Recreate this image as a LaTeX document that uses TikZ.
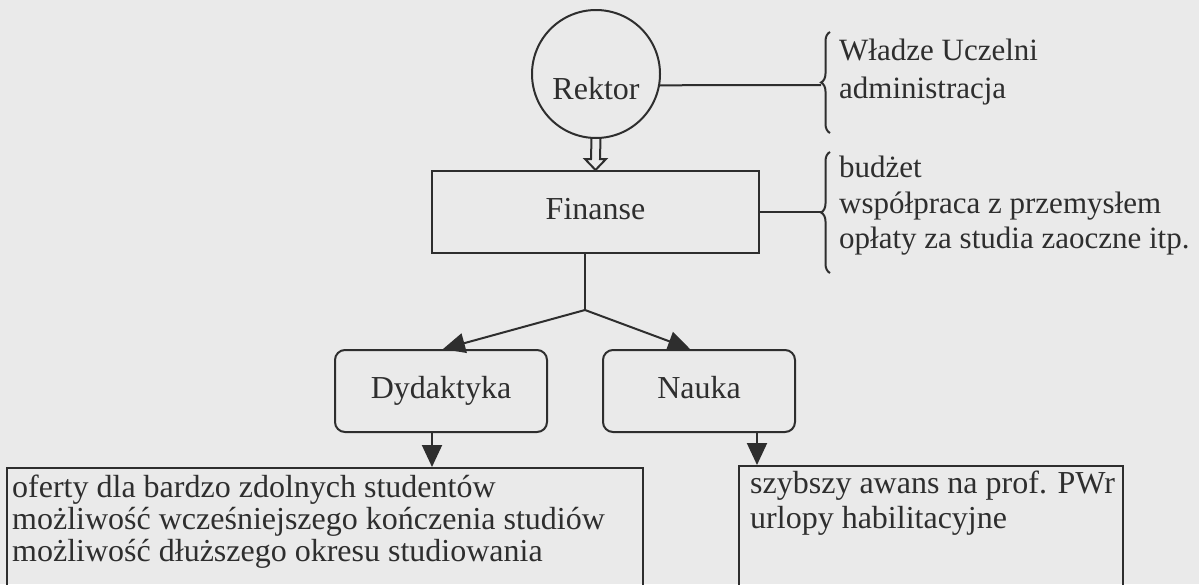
\documentclass[tikz,border=0pt]{standalone}
\usepackage{fontspec}
\setmainfont{Liberation Serif}
\usetikzlibrary{arrows.meta,decorations.pathreplacing,calc}
\definecolor{bg}{HTML}{EAEAEA}
\definecolor{ink}{HTML}{2E2E2E}
\tikzset{
  ln/.style={draw=ink, line width=2pt},
  arr/.style={ln, -{Triangle[length=22pt,width=20pt]}},
  txt/.style={text=ink, inner sep=0pt, anchor=base west},
  rtxt/.style={txt, font=\fontsize{31}{36}\selectfont},
  rbox/.style={ln, rectangle, rounded corners=10pt, minimum width=212pt, minimum height=82pt,
    text=ink, text height=22pt, text depth=7pt},
  sqbox/.style={ln, rectangle, anchor=north west, minimum height=170pt},
  bracesty/.style={ln, decorate, decoration={brace, amplitude=9pt}}
}
\begin{document}
\begin{tikzpicture}[x=1pt, y=-1pt, font=\fontsize{32}{36}\selectfont]
\useasboundingbox (0,0) rectangle (1199,584);
\fill[bg] (0,0) rectangle (1199,584);
\clip (0,0) rectangle (1199,584);

% main nodes
\node[ln, circle, minimum size=128pt, inner sep=0pt, text=ink,
      text height=55pt, text depth=5pt] (rektor) at (596,74) {Rektor};
\node[ln, rectangle, minimum width=327pt, minimum height=82pt, text=ink,
      text height=22pt, text depth=7pt] (fin) at (595.5,212) {Finanse};
\node[rbox] (dyd) at (441,391) {Dydaktyka};
\node[rbox, minimum width=192pt] (nauka) at (699,391) {Nauka};
\node[sqbox, minimum width=636pt] (dbox) at (6,467) {};
\node[sqbox, minimum width=384pt] (nbox) at (738,465) {};

% hollow arrow Rektor -> Finanse
\draw[ln, line join=miter]
  ($(rektor.south)+(-4.5,-1)$) -- ($(fin.north)+(-4.5,-11)$) -- ($(fin.north)+(-10.5,-11)$)
  -- (fin.north) -- ($(fin.north)+(10.5,-11)$) -- ($(fin.north)+(4.5,-11)$)
  -- ($(rektor.south)+(4.5,-1)$);

% braces and their lines
\coordinate (b1tip) at (821,85);
\coordinate (b2tip) at (821,212);
\draw[bracesty] (830,133) -- (830,32);
\draw[bracesty] (830,273) -- (830,152);
\draw[ln] (rektor.-10) -- (b1tip);
\draw[ln] (fin.east) -- (b2tip);

% right texts
\node[rtxt] (w1) at (839,60) {Władze Uczelni};
\node[rtxt] (w2) at (839,98) {administracja};
\node[rtxt] (f1) at (839,177) {budżet};
\node[rtxt] (f2) at (839,213) {współpraca z przemysłem};
\node[rtxt] (f3) at (839,248) {opłaty za studia zaoczne itp.};

% branching
\coordinate (junc) at (585,310);
\draw[ln] (fin.south -| junc) -- (junc);
\coordinate (dt) at ($(dyd.north)+(2,0)$);
\coordinate (nt) at ($(nauka.north)+(-9,0)$);
\draw[arr] (junc) -- (dt);
\draw[arr] (junc) -- (nt);

% down arrows
\coordinate (d1) at ($(dyd.south)+(-9,0)$);
\coordinate (n1) at ($(nauka.south)+(58,0)$);
\draw[arr] (d1) -- (d1 |- dbox.north);
\draw[arr] (n1) -- (n1 |- nbox.north);

% bottom texts
\node[txt] (o1) at (12,497) {oferty dla bardzo zdolnych studentów};
\node[txt] (o2) at (12,529) {możliwość wcześniejszego kończenia studiów};
\node[txt] (o3) at (12,561) {możliwość dłuższego okresu studiowania};
\node[txt] (s1) at (750,493) {szybszy awans na prof. PWr};
\node[txt] (s2) at (750,528) {urlopy habilitacyjne};
\end{tikzpicture}
\end{document}
